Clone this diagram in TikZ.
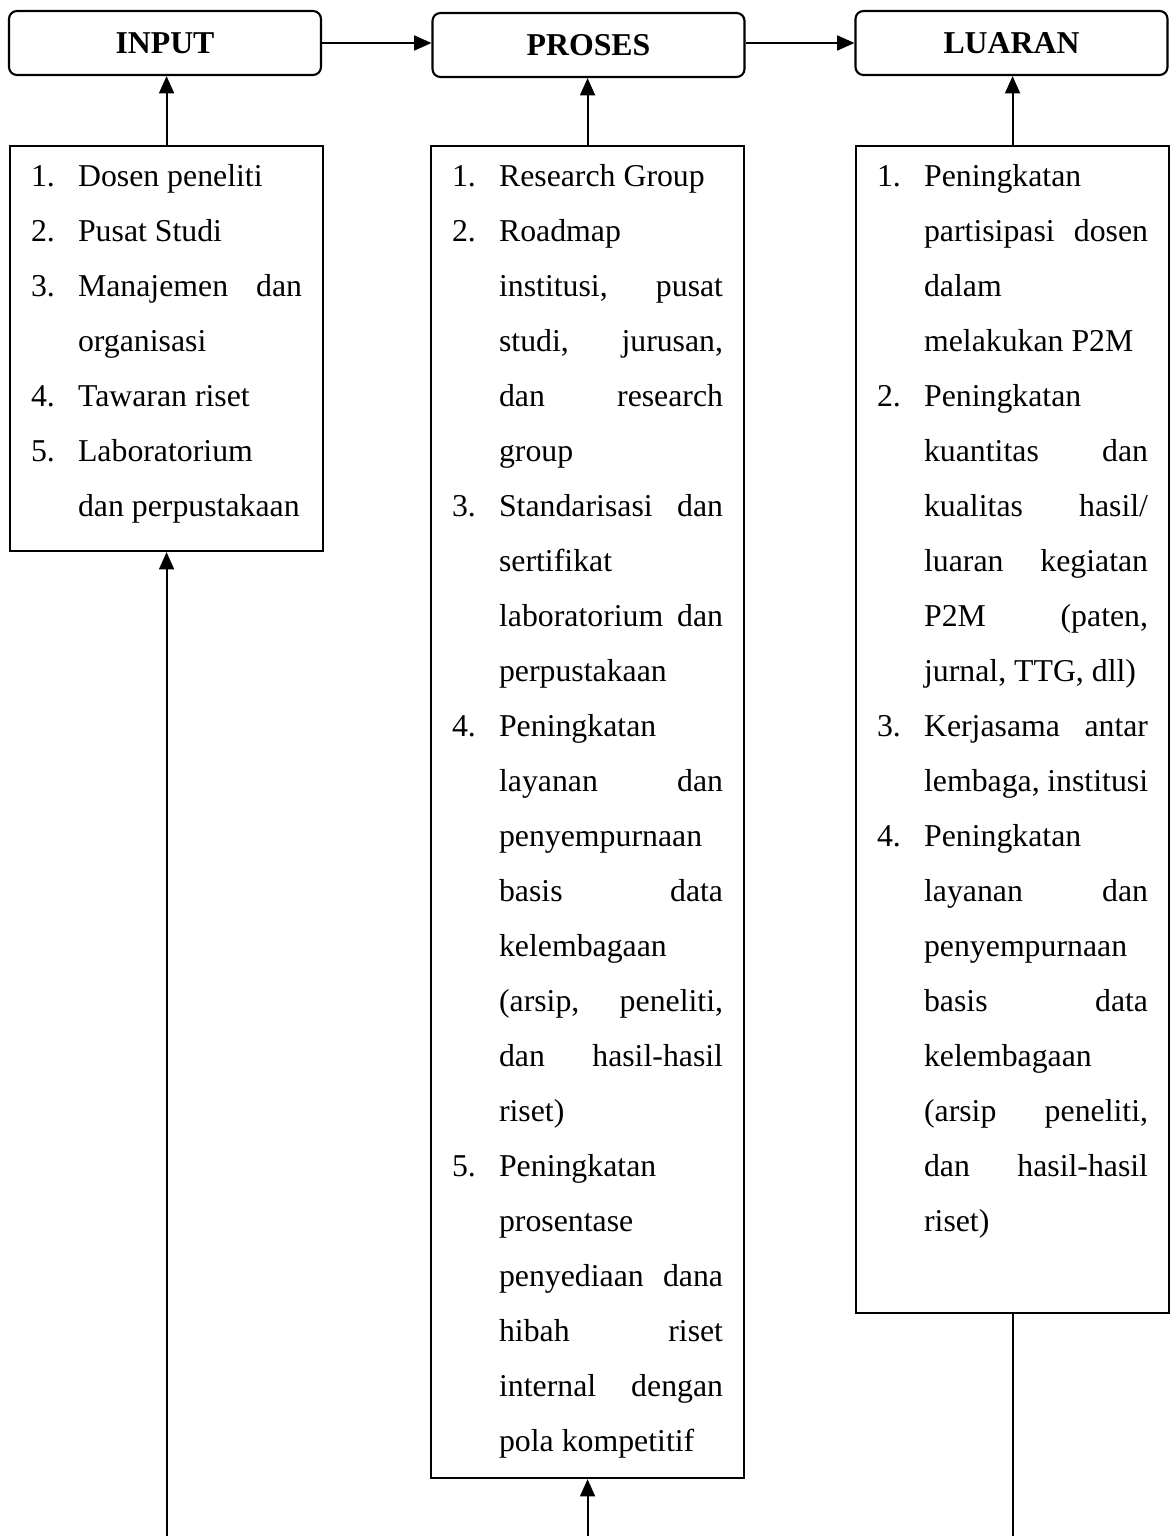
\documentclass[tikz,border=0pt]{standalone}
\usepackage{fontspec}
\setmainfont{Liberation Serif}
\usetikzlibrary{arrows.meta}
\newlength{\pxu}\setlength{\pxu}{0.3774pt}
\newcommand{\nmb}[1]{\makebox[47\pxu][l]{#1.}}
\newcommand{\hng}{\hspace*{47\pxu}}
\newcommand{\jline}[1]{\makebox[224\pxu][s]{#1}}
\newcommand{\pline}[1]{\makebox[224\pxu][l]{#1}}
\newcommand{\firstline}{\rule{0pt}{40\pxu}}
\tikzstyle{head} = [draw,rounded corners=3pt,line width=0.8pt,minimum width=312\pxu,minimum height=64\pxu,font=\fontsize{12}{14}\selectfont\bfseries]
\tikzstyle{listbox} = [draw,line width=0.8pt,inner xsep=21\pxu,inner ysep=0,anchor=north west,font=\fontsize{12}{20.76}\selectfont]
\tikzstyle{arrow} = [line width=0.75pt,-{Triangle[length=6.5pt,width=5.6pt]}]

\begin{document}
\begin{tikzpicture}[x=0.3774pt,y=-0.3774pt]
    \useasboundingbox (0,0) rectangle (1171,1536);
    \node [head] (inbox) at (165,43) {INPUT};
    \node [head] (probox) at (588.5,45) {PROSES};
    \node [head] (luabox) at (1011.5,43) {LUARAN};
    \node [listbox] (inlist) at (9,145) {\parbox[t][405\pxu][t]{271\pxu}{\firstline
      \nmb{1}\pline{Dosen peneliti}\\
      \nmb{2}\pline{Pusat Studi}\\
      \nmb{3}\jline{Manajemen dan}\\
      \hng\pline{organisasi}\\
      \nmb{4}\pline{Tawaran riset}\\
      \nmb{5}\pline{Laboratorium}\\
      \hng\pline{dan perpustakaan}}};
    \node [listbox] (prolist) at (430,145) {\parbox[t][1332\pxu][t]{271\pxu}{\firstline
      \nmb{1}\pline{Research Group}\\
      \nmb{2}\pline{Roadmap}\\
      \hng\jline{institusi, pusat}\\
      \hng\jline{studi, jurusan,}\\
      \hng\jline{dan research}\\
      \hng\pline{group}\\
      \nmb{3}\jline{Standarisasi dan}\\
      \hng\pline{sertifikat}\\
      \hng\jline{laboratorium dan}\\
      \hng\pline{perpustakaan}\\
      \nmb{4}\pline{Peningkatan}\\
      \hng\jline{layanan dan}\\
      \hng\pline{penyempurnaan}\\
      \hng\jline{basis data}\\
      \hng\pline{kelembagaan}\\
      \hng\jline{(arsip, peneliti,}\\
      \hng\jline{dan hasil-hasil}\\
      \hng\pline{riset)}\\
      \nmb{5}\pline{Peningkatan}\\
      \hng\pline{prosentase}\\
      \hng\jline{penyediaan dana}\\
      \hng\jline{hibah riset}\\
      \hng\jline{internal dengan}\\
      \hng\pline{pola kompetitif}}};
    \node [listbox] (lualist) at (855,145) {\parbox[t][1167\pxu][t]{271\pxu}{\firstline
      \nmb{1}\pline{Peningkatan}\\
      \hng\jline{partisipasi dosen}\\
      \hng\pline{dalam}\\
      \hng\pline{melakukan P2M}\\
      \nmb{2}\pline{Peningkatan}\\
      \hng\jline{kuantitas dan}\\
      \hng\jline{kualitas hasil/}\\
      \hng\jline{luaran kegiatan}\\
      \hng\jline{P2M (paten,}\\
      \hng\pline{jurnal, TTG, dll)}\\
      \nmb{3}\jline{Kerjasama antar}\\
      \hng\jline{lembaga, institusi}\\
      \nmb{4}\pline{Peningkatan}\\
      \hng\jline{layanan dan}\\
      \hng\pline{penyempurnaan}\\
      \hng\jline{basis data}\\
      \hng\pline{kelembagaan}\\
      \hng\jline{(arsip peneliti,}\\
      \hng\jline{dan hasil-hasil}\\
      \hng\pline{riset)}}};
    \coordinate (bot) at (0,1536);
    \coordinate (inend) at (inlist.south |- bot);
    \coordinate (proend) at (prolist.south |- bot);
    \coordinate (luaend) at (lualist.south |- bot);
    \draw [arrow] (inbox.east) -- (inbox.east -| probox.west);
    \draw [arrow] (probox.east |- luabox.west) -- (luabox.west);
    \draw [arrow] (inlist.north) -- (inlist.north |- inbox.south);
    \draw [arrow] (prolist.north) -- (prolist.north |- probox.south);
    \draw [arrow] (lualist.north) -- (lualist.north |- luabox.south);
    \draw [arrow] (inend) -- (inlist.south);
    \draw [arrow] (proend) -- (prolist.south);
    \draw [line width=0.75pt] (lualist.south) -- (luaend);
  \end{tikzpicture}
\end{document}
